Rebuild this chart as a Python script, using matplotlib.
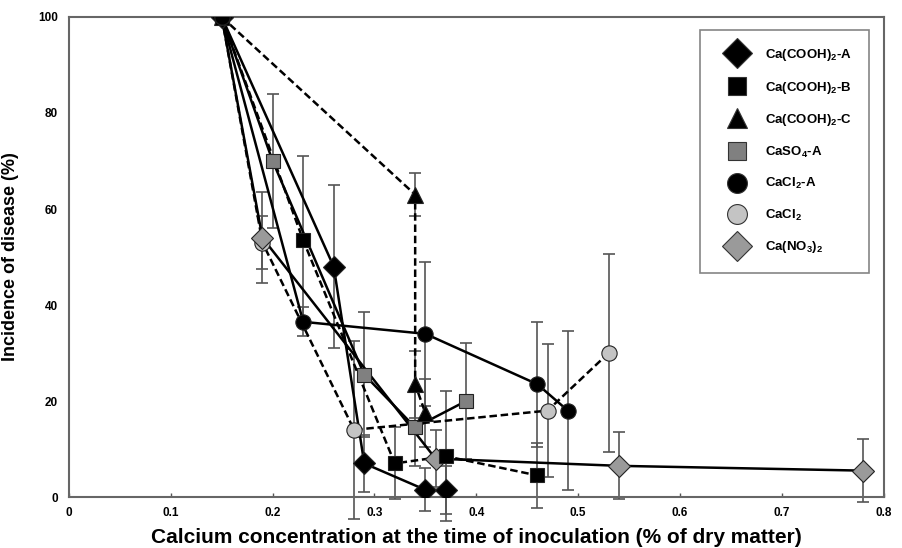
import matplotlib.pyplot as plt
from matplotlib.lines import Line2D

plt.rcParams['font.family'] = ['Liberation Sans', 'DejaVu Sans']
plt.rcParams['font.weight'] = 'bold'
plt.rcParams['mathtext.fontset'] = 'custom'
plt.rcParams['mathtext.rm'] = 'Liberation Sans:bold'
plt.rcParams['mathtext.bf'] = 'Liberation Sans:bold'
plt.rcParams['mathtext.default'] = 'bf'

names = ['Ca(COOH)$_2$-A', 'Ca(COOH)$_2$-B', 'Ca(COOH)$_2$-C', 'CaSO$_4$-A',
         'CaCl$_2$-A', 'CaCl$_2$', 'Ca(NO$_3$)$_2$']

x_a = [0.15, 0.26, 0.29, 0.35, 0.37]
y_a = [100, 48, 7, 1.5, 1.5]
e_a = [0, 17, 6, 4.5, 5]

x_b = [0.15, 0.23, 0.32, 0.37, 0.46]
y_b = [100, 53.5, 7, 8.5, 4.5]
e_b = [0, 17.5, 7.5, 13.5, 6.8]

x_c = [0.15, 0.34, 0.34, 0.35]
y_c = [100, 63, 23.5, 17.5]
e_c = [0, 4.5, 7, 7]

x_so4 = [0.15, 0.20, 0.29, 0.34, 0.39]
y_so4 = [100, 70, 25.5, 14.5, 20]
e_so4 = [0, 14, 13, 8, 12]

x_cla = [0.15, 0.23, 0.35, 0.46, 0.49]
y_cla = [100, 36.5, 34, 23.5, 18]
e_cla = [0, 3, 15, 13, 16.5]

x_cl = [0.15, 0.19, 0.28, 0.47, 0.53]
y_cl = [100, 53, 14, 18, 30]
e_cl = [0, 5.5, 18.5, 13.8, 20.7]

x_no3 = [0.15, 0.19, 0.36, 0.54, 0.78]
y_no3 = [100, 54, 8, 6.5, 5.5]
e_no3 = [0, 9.5, 6, 7, 6.5]

xs = [x_a, x_b, x_c, x_so4, x_cla, x_cl, x_no3]
ys = [y_a, y_b, y_c, y_so4, y_cla, y_cl, y_no3]
es = [e_a, e_b, e_c, e_so4, e_cla, e_cl, e_no3]

markers = ['D', 's', '^', 's', 'o', 'o', 'D']
msizes = [11.5, 10, 11, 10, 11, 11, 11.5]
faces = ['black', 'black', 'black', '#808080', 'black', '#c4c4c4', '#9a9a9a']
styles = ['-', '--', '--', '-', '-', '--', '-']
# black markers sit on top of the grey ones
zord = [5, 5, 5, 3, 5, 3, 3]

fig = plt.figure(figsize=(9.02, 5.48), dpi=100)
ax = fig.add_axes([0.0765, 0.093, 0.903, 0.876])

# error bars
for x, y, e in zip(xs, ys, es):
    ax.errorbar(x, y, yerr=e, fmt='none', ecolor='#555555', elinewidth=1.2,
                capsize=4, capthick=1.2, zorder=1, clip_on=False)

# connecting lines
for x, y, ls in zip(xs, ys, styles):
    ax.plot(x, y, color='black', lw=1.8, ls=ls, dashes=(3, 1.5) if ls == '--' else (None, None),
            zorder=2)

# markers
for x, y, m, s, fc, z in zip(xs, ys, markers, msizes, faces, zord):
    ax.plot(x, y, ls='none', marker=m, ms=s, mfc=fc, mec='#222222', mew=0.8, zorder=z)

ax.set_xlim(0, 0.8)
ax.set_ylim(0, 100)
ax.set_xticks([0, 0.1, 0.2, 0.3, 0.4, 0.5, 0.6, 0.7, 0.8])
ax.set_xticklabels(['0', '0.1', '0.2', '0.3', '0.4', '0.5', '0.6', '0.7', '0.8'])
ax.set_yticks([0, 20, 40, 60, 80, 100])
ax.tick_params(direction='in', length=3, labelsize=8.5, width=1, colors='#555555',
               labelcolor='black')
ax.tick_params(axis='x', pad=7)
ax.tick_params(axis='y', length=0, pad=8)
for sp in ax.spines.values():
    sp.set_color('#666666')
    sp.set_linewidth(1.5)

ax.set_xlabel('Calcium concentration at the time of inoculation (% of dry matter)',
              fontsize=15, fontweight='bold', labelpad=7)
ax.set_ylabel('Incidence of disease (%)', fontsize=13, fontweight='bold', labelpad=14)

handles = [Line2D([], [], ls='none', marker=m, ms=s * 1.3, mfc=fc, mec='#333333', mew=0.8)
           for m, s, fc in zip(markers, msizes, faces)]
leg = ax.legend(handles, names, loc='upper right', bbox_to_anchor=(0.982, 0.973),
                fontsize=9.5, frameon=True, fancybox=False, edgecolor='#666666',
                labelspacing=1.25, borderpad=1.3, handlelength=3.0, handletextpad=0.6,
                borderaxespad=0)
leg.get_frame().set_linewidth(1.2)
leg.set_zorder(10)

fig.savefig('out.png', dpi=100)
